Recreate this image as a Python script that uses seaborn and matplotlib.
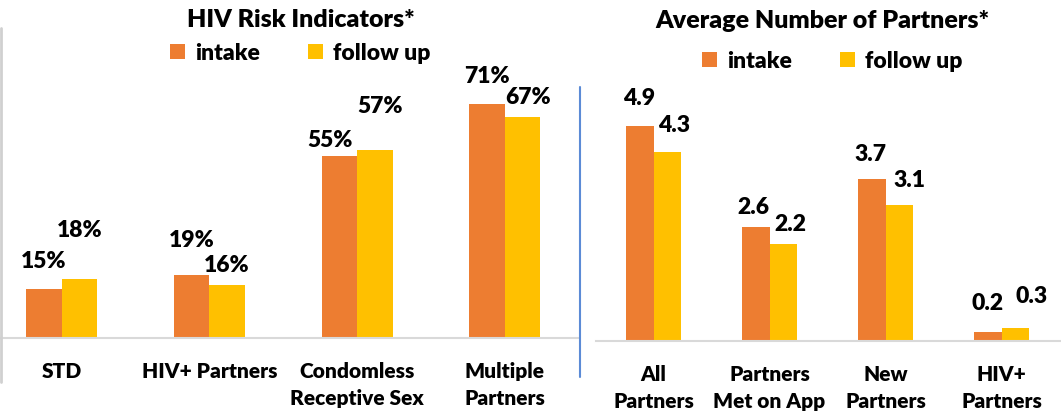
import pandas as pd
import matplotlib.pyplot as plt
from matplotlib.lines import Line2D
import seaborn as sns

# chart data
risk_categories = ["STD", "HIV+ Partners", "Condomless\nReceptive Sex", "Multiple\nPartners"]
risk_intake = [15, 19, 55, 71]
risk_follow_up = [18, 16, 57, 67]

partner_categories = ["All\nPartners", "Partners\nMet on App", "New\nPartners", "HIV+\nPartners"]
partner_intake = [4.9, 2.6, 3.7, 0.2]
partner_follow_up = [4.3, 2.2, 3.1, 0.3]

periods = ["intake", "follow up"]

# label offsets (pixels) per hue level, per bar: (dx, dy above bar top)
risk_offsets = [[(0, 27), (0, 35), (-9, 16), (0, 27)],
                [(0, 48), (0, 20), (5, 43), (5, 19)]]
partner_offsets = [[(0, 27), (-2, 19), (-1, 24), (0, 29)],
                   [(7, 27), (7, 20), (10, 24), (16, 31)]]

ORANGE = "#ED7D31"
YELLOW = "#FFC000"
WEIGHT = "heavy"

sns.set_style("white")
plt.rcParams["font.family"] = ["Lato", "DejaVu Sans"]
plt.rcParams["font.weight"] = WEIGHT
plt.rcParams["text.color"] = "black"
plt.rcParams["xtick.color"] = "black"

W, H = 1061, 412
fig = plt.figure(figsize=(W / 100, H / 100), dpi=100)


def to_long(cats, a, b):
    return pd.DataFrame({
        "category": cats * 2,
        "period": [periods[0]] * len(cats) + [periods[1]] * len(cats),
        "value": list(a) + list(b),
    })


def draw_panel(ax, df, cats, ymax, xlim, fmt, offsets, title, title_x, title_y, leg_x, leg_y):
    sns.barplot(data=df, x="category", y="value", hue="period", order=cats,
                hue_order=periods, palette=[ORANGE, YELLOW], width=0.48,
                linewidth=0, saturation=1, ax=ax)
    ax.set_ylim(0, ymax)
    ax.set_xlim(*xlim)
    ax.set_xlabel("")
    ax.set_ylabel("")
    ax.set_yticks([])
    for s in ["left", "right", "top"]:
        ax.spines[s].set_visible(False)
    ax.spines["bottom"].set_color("#D9D9D9")
    ax.spines["bottom"].set_linewidth(1.5)
    ax.tick_params(axis="x", length=0, pad=17, labelcolor="black")
    ax.set_xticks(range(len(cats)))
    ax.set_xticklabels(cats, fontsize=15, fontweight=WEIGHT, linespacing=1.55)

    for ci, cont in enumerate(ax.containers):
        for bi, bar in enumerate(cont):
            val = bar.get_height()
            dx, dy = offsets[ci][bi]
            ax.annotate(fmt(val), (bar.get_x() + bar.get_width() / 2, val),
                        xytext=(dx, dy), textcoords="offset pixels",
                        ha="center", va="center", fontsize=16.5, fontweight=WEIGHT,
                        color="black")

    handles, labels = ax.get_legend_handles_labels()
    ax.get_legend().remove()
    fig.legend(handles, labels, loc="center", bbox_to_anchor=(leg_x / W, 1 - leg_y / H),
               ncol=2, frameon=False, prop={"size": 16.5, "weight": WEIGHT},
               handlelength=0.65, handleheight=0.65, labelcolor="black",
               handletextpad=0.45, columnspacing=2.1, borderpad=0)
    fig.text(title_x / W, 1 - title_y / H, title, ha="center", va="baseline",
             fontsize=18, fontweight=WEIGHT, color="black")


# left panel: risk indicators
left_base = 338
ax1 = fig.add_axes([0, (H - left_base) / H, 578.75 / W, 94 * 3.30 / H])
draw_panel(ax1, to_long(risk_categories, risk_intake, risk_follow_up), risk_categories,
           94, (-0.417, 3.5), lambda v: f"{v:.0f}%", risk_offsets,
           "HIV Risk Indicators*", 301, 27, 300, 53)

# right panel: average partners
right_base = 341
ax2 = fig.add_axes([595.5 / W, (H - right_base) / H, 464 / W, 6 * 43.9 / H])
draw_panel(ax2, to_long(partner_categories, partner_intake, partner_follow_up), partner_categories,
           6, (-0.5, 3.5), lambda v: f"{v:.1f}", partner_offsets,
           "Average Number of Partners*", 822, 28, 832, 61)

# separator lines
fig.add_artist(Line2D([1 / W, 1 / W], [1 - 28 / H, 1 - 382 / H], color="#D0D0D0", linewidth=2))
fig.add_artist(Line2D([580 / W, 580 / W], [1 - 87 / H, 1 - 377 / H], color="#5B8BD6", linewidth=1.5))

fig.savefig("out.png", dpi=100)
